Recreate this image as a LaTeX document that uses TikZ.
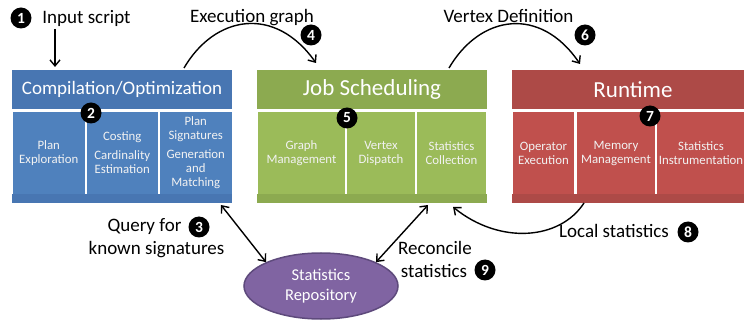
\documentclass[tikz,border=0pt]{standalone}
\usepackage{fontspec}
\setmainfont{Carlito}
\usetikzlibrary{arrows.meta,shapes.geometric,calc}
\definecolor{bluehd}{HTML}{4876B2}
\definecolor{bluecl}{HTML}{4F81BD}
\definecolor{greenhd}{HTML}{8CAA50}
\definecolor{greencl}{HTML}{9BBB59}
\definecolor{redhd}{HTML}{AD4A47}
\definecolor{redcl}{HTML}{C0504D}
\definecolor{purp}{HTML}{8064A2}
\definecolor{purpdk}{HTML}{5E4A7C}
\begin{document}
\begin{tikzpicture}[x=1pt,y=-1pt,
  box/.style={rectangle, inner sep=0pt, outer sep=0pt, text=white, align=center},
  head/.style={box, minimum height=39pt, font=\fontsize{23}{26}\selectfont},
  cell/.style={box, minimum height=82pt, text=white!95!black, font=\fontsize{12.8}{14}\selectfont},
  bar/.style={box, minimum height=9pt},
  lbl/.style={font=\fontsize{19}{22.5}\selectfont, inner sep=0pt, align=center, anchor=base},
  badge/.style={circle, fill=black, text=white, inner sep=0pt, minimum size=21pt, font=\fontsize{15.5}{15.5}\selectfont\bfseries},
  arr/.style={-{Straight Barb[length=6pt,width=10pt]}, line width=1.4pt},
  dbl/.style={{Straight Barb[length=6pt,width=10pt]}-{Straight Barb[length=6pt,width=10pt]}, line width=1.4pt}]
\useasboundingbox (0,0) rectangle (744,320);
\clip (0,0) rectangle (744,320);
% Compilation
\node[head, fill=bluehd, minimum width=220pt, font=\fontsize{19}{22}\selectfont] (comphead) at (122,89.5) {Compilation/Optimization};
\node[cell, fill=bluecl, minimum width=71.5pt] (c1) at (48.75,153) {Plan\\Exploration};
\node[cell, fill=bluecl, minimum width=71.5pt] (c2) at (122.25,153) {Costing\\[5pt]Cardinality\\Estimation};
\node[cell, fill=bluecl, minimum width=71.5pt] (c3) at (195.75,153) {Plan\\Signatures\\[5pt]Generation\\and\\Matching};
\node[bar, fill=bluehd, minimum width=220pt] (compbar) at (122,198.5) {};
% Job scheduling
\node[head, fill=greenhd, minimum width=230pt] (jobhead) at (372,89.5) {Job Scheduling};
\node[cell, fill=greencl, minimum width=87pt] (g1) at (301.5,153) {Graph\\Management};
\node[cell, fill=greencl, minimum width=68pt] (g2) at (381,153) {Vertex\\Dispatch};
\node[cell, fill=greencl, minimum width=69pt] (g3) at (451.5,153) {Statistics\\Collection};
\node[bar, fill=greenhd, minimum width=230pt] (jobbar) at (372,198.5) {};
% Runtime
\node[head, fill=redhd, minimum width=242pt] (runhead) at (633,89.5) {Runtime};
\node[cell, fill=redcl, minimum width=61pt] (r1) at (543.5,153) {Operator\\Execution};
\node[cell, fill=redcl, minimum width=78pt] (r2) at (616,153) {Memory\\Management};
\node[cell, fill=redcl, minimum width=88pt] (r3) at (701,153) {Statistics\\Instrumentation};
\node[bar, fill=redhd, minimum width=242pt] (runbar) at (633,198.5) {};
% Repository
\node[ellipse, minimum width=154pt, minimum height=66pt, fill=purp, draw=purpdk, line width=1.5pt, text=white, align=center, font=\fontsize{16.5}{20}\selectfont] (repo) at (321,286) {Statistics\\Repository};
% labels
\node[lbl] (linput) at (86.5,23.5) {Input script};
\node[lbl] (lexec) at (252,23) {Execution graph};
\node[lbl] (lvert) at (508.5,23) {Vertex Definition};
\node[lbl] (lquery) at (144.5,231.5) {Query for};
\node[lbl] (lknown) at (156.5,255) {known signatures};
\node[lbl] (lrec) at (435,254.5) {Reconcile};
\node[lbl] (lstat) at (434,277) {statistics};
\node[lbl] (llocal) at (614,238) {Local statistics};
% badges
\node[badge] (b1) at (21,18) {1};
\node[badge] (b2) at (91,113) {2};
\node[badge] (b3) at (199,227) {3};
\node[badge] (b4) at (311,35) {4};
\node[badge] (b5) at (347,118) {5};
\node[badge] (b6) at (585,35) {6};
\node[badge] (b7) at (650,116) {7};
\node[badge] (b8) at (688,232) {8};
\node[badge] (b9) at (485,270) {9};
% connectors
\coordinate (in1) at (55,29);
\draw[arr] (in1) -- ([xshift=43pt,yshift=3pt]comphead.north west);
\draw[arr] ([xshift=172pt,yshift=2pt]comphead.north west) .. controls +(31,-53) and +(-41,-58) .. ([xshift=59pt,yshift=7pt]jobhead.north west);
\draw[arr] ([xshift=192pt,yshift=2pt]jobhead.north west) .. controls +(31,-53) and +(-40,-59) .. ([xshift=68pt,yshift=6pt]runhead.north west);
\draw[arr] ([xshift=72pt]runbar.south west) .. controls +(-24,37) and +(47,38) .. ([xshift=-34pt,yshift=-4pt]jobbar.south east);
\draw[dbl] ([xshift=-11pt,yshift=-2pt]compbar.south east) -- (repo.north west);
\draw[dbl] ([xshift=-59pt,yshift=-2pt]jobbar.south east) -- (repo.north east);
\end{tikzpicture}
\end{document}
